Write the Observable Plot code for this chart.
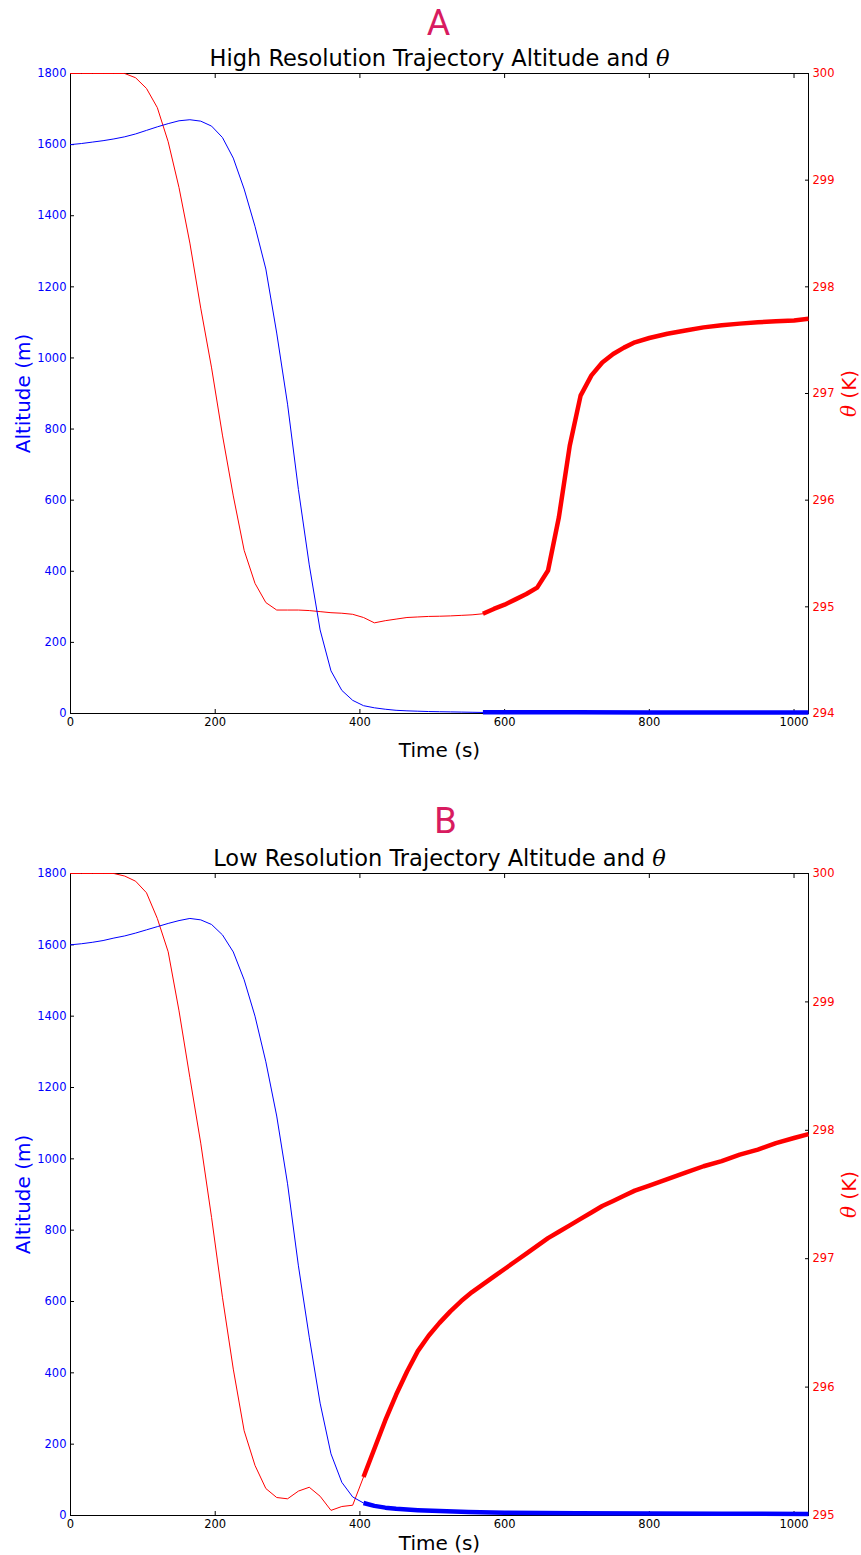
<!DOCTYPE html>
<html><head><meta charset="utf-8">
<script src="https://cdn.jsdelivr.net/npm/d3@7"></script>
<script src="https://cdn.jsdelivr.net/npm/@observablehq/plot@0.6"></script>
<style>body{margin:0;background:#fff}#chart{width:861px}svg{display:block}</style>
</head><body><div id="chart"></div>
<script>
// ---------- Panel A : High resolution ----------
const hiAltTime = [0,15,30,45,60,75,90,105,120,135,150,165,180,195,210,225,240,255,270,285,300,315,330,345,360,375,390,405,420,435,450,465,480,495,510,525,540,555,570];
const hiAlt     = [1600,1603,1607,1611,1616,1622,1630,1640,1650,1659,1667,1670,1666,1652,1620,1562,1475,1370,1250,1070,870,630,418,235,120,65,37,22,16,12,9,7.5,6.5,5.5,5,4.5,4,3.5,3];
const hiAltThickTime = [570,600,650,700,800,900,1020];
const hiAltThick     = [3.5,3.4,3.3,3.2,3.1,3,3];
const hiThTime = [0,15,30,45,60,75,90,105,120,135,150,165,180,195,210,225,240,255,270,285,300,315,330,345,360,375,390,405,420,435,450,465,480,495,510,525,540,555,570];
const hiTh     = [300,300,300,300,300,300,299.96,299.86,299.68,299.36,298.93,298.41,297.8,297.24,296.61,296.04,295.53,295.22,295.04,294.97,294.97,294.97,294.965,294.955,294.945,294.94,294.93,294.9,294.85,294.87,294.885,294.9,294.905,294.91,294.912,294.915,294.92,294.925,294.935];
const hiThThickTime = [570,585,600,615,630,645,660,675,690,705,720,735,750,765,780,800,825,850,875,900,925,950,975,1000,1020];
const hiThThick     = [294.935,294.98,295.02,295.07,295.12,295.18,295.34,295.84,296.51,296.98,297.17,297.29,297.37,297.43,297.48,297.52,297.56,297.59,297.62,297.64,297.655,297.667,297.677,297.685,297.7];

// ---------- Panel B : Low resolution ----------
const loAltTime = [0,15,30,45,60,75,90,105,120,135,150,165,180,195,210,225,240,255,270,285,300,315,330,345,360,375,390,405];
const loAlt     = [1600,1603,1607,1612,1619,1625,1633,1642,1651,1660,1668,1674,1670,1657,1628,1580,1502,1400,1272,1120,930,700,500,315,173,93,52,35];
const loAltThickTime = [405,420,435,450,465,480,500,550,600,700,800,900,1020];
const loAltThick     = [35,27,22,19,17,15,13,10,8,6.5,5.5,5,4.5];
const loThTime = [0,15,30,45,60,75,90,105,120,135,150,165,180,195,210,225,240,255,270,285,300,315,330,345,360,375,390,405];
const loTh     = [300,300,300,300,300,299.98,299.94,299.85,299.65,299.39,298.93,298.41,297.9,297.32,296.7,296.14,295.66,295.39,295.21,295.14,295.13,295.19,295.22,295.15,295.04,295.07,295.08,295.3];
const loThThickTime = [405,420,435,450,465,480,495,510,525,540,555,570,585,600,615,630,645,660,675,690,705,720,735,750,765,780,800,825,850,875,900,925,950,975,1000,1020];
const loThThick     = [295.3,295.52,295.74,295.94,296.12,296.28,296.4,296.5,296.59,296.67,296.74,296.8,296.86,296.92,296.98,297.04,297.1,297.16,297.21,297.26,297.31,297.36,297.41,297.45,297.49,297.53,297.57,297.62,297.67,297.72,297.76,297.81,297.85,297.9,297.94,297.97];

// ---------- Axis ticks / labels ----------
const timeTicks = [0,200,400,600,800,1000];
const altTicks = [0,200,400,600,800,1000,1200,1400,1600,1800];
const hiThetaTicks = [294,295,296,297,298,299,300];
const loThetaTicks = [295,296,297,298,299,300];
const letters = ["A","B"];
const titles = ["High Resolution Trajectory Altitude and θ","Low Resolution Trajectory Altitude and θ"];
const xLabel = "Time (s)";
const yLabel = "Altitude (m)";
const y2Label = "θ (K)";

const zip = (t, v) => t.map((d, i) => ({t: d, v: v[i]}));

function panel(cfg) {
  const thMin = cfg.thetaTicks[0];
  const toY = th => (th - thMin) / (300 - thMin) * 1800;
  const zipTh = (t, v) => t.map((d, i) => ({t: d, v: toY(v[i])}));
  const mid = {textAnchor: "middle", lineAnchor: "middle"};
  const svg = Plot.plot({
    width: 861, height: cfg.height,
    marginLeft: 70, marginRight: 53, marginTop: cfg.marginTop, marginBottom: cfg.marginBottom,
    x: {domain: [0, 1020]},
    y: {domain: [0, 1800]},
    style: {fontFamily: "DejaVu Sans", background: "white", color: "black"},
    marks: [
      Plot.frame({stroke: "black"}),
      Plot.axisX({ticks: timeTicks, tickSize: -4, tickPadding: 8, tickFormat: d => String(d), fontSize: 11.5, label: null, fill: "black", stroke: "black"}),
      Plot.axisX({anchor: "top", ticks: timeTicks, tickSize: -4, tickFormat: () => "", label: null, stroke: "black"}),
      Plot.axisY({ticks: altTicks, tickSize: -4, tickPadding: 8, tickFormat: d => String(d), fontSize: 11.5, label: null, fill: "blue", stroke: "black"}),
      Plot.axisY({anchor: "right", ticks: cfg.thetaTicks.map(toY), tickSize: -4, tickPadding: 8,
        tickFormat: d => String(Math.round(thMin + d / 1800 * (300 - thMin))), fontSize: 11.5, label: null, fill: "red", stroke: "black"}),
      Plot.line(zipTh(cfg.thT, cfg.th), {x: "t", y: "v", stroke: "red", strokeWidth: 1}),
      Plot.line(zip(cfg.altT, cfg.alt), {x: "t", y: "v", stroke: "blue", strokeWidth: 1}),
      Plot.line(zip(cfg.altKT, cfg.altK), {x: "t", y: "v", stroke: "blue", strokeWidth: 4.5, strokeLinecap: "butt"}),
      Plot.line(zipTh(cfg.thKT, cfg.thK), {x: "t", y: "v", stroke: "red", strokeWidth: 4.5, strokeLinecap: "butt"}),
      Plot.text([cfg.letter], {frameAnchor: "top", dy: cfg.letterDy, dx: cfg.letterDx, fontSize: 36, fill: "#d81b60", fontFamily: "Roboto", ...mid}),
      Plot.text([cfg.title], {frameAnchor: "top", dy: -15, fontSize: 22.5, fill: "black", ...mid}),
      Plot.text([xLabel], {frameAnchor: "bottom", dy: cfg.xLabelDy, fontSize: 20, fill: "black", ...mid}),
      Plot.text([yLabel], {frameAnchor: "left", dx: -47, rotate: -90, fontSize: 20, fill: "blue", ...mid}),
      Plot.text([y2Label], {frameAnchor: "right", dx: 41, rotate: -90, fontSize: 20, fill: "red", ...mid})
    ]
  });
  // render θ in italic serif like matplotlib mathtext
  svg.querySelectorAll("text").forEach(el => {
    const s = el.textContent;
    if (s.includes("θ") && el.children.length === 0) {
      el.textContent = "";
      el.style.whiteSpace = "pre";
      s.split(/(θ)/).filter(p => p.length).forEach(p => {
        const ts = document.createElementNS("http://www.w3.org/2000/svg", "tspan");
        ts.textContent = p;
        if (p === "θ") { ts.setAttribute("font-family", "DejaVu Serif"); ts.setAttribute("font-style", "italic"); }
        el.appendChild(ts);
      });
    }
  });
  return svg;
}

const chart = document.getElementById("chart");
chart.appendChild(panel({
  letter: letters[0], title: titles[0], height: 780, marginTop: 73, marginBottom: 67, xLabelDy: 37, letterDy: -50, letterDx: -1,
  altT: hiAltTime, alt: hiAlt, altKT: hiAltThickTime, altK: hiAltThick,
  thT: hiThTime, th: hiTh, thKT: hiThThickTime, thK: hiThThick, thetaTicks: hiThetaTicks
}));
chart.appendChild(panel({
  letter: letters[1], title: titles[1], height: 775, marginTop: 93, marginBottom: 40, xLabelDy: 28, letterDy: -52, letterDx: 6,
  altT: loAltTime, alt: loAlt, altKT: loAltThickTime, altK: loAltThick,
  thT: loThTime, th: loTh, thKT: loThThickTime, thK: loThThick, thetaTicks: loThetaTicks
}));
</script>
</body></html>
